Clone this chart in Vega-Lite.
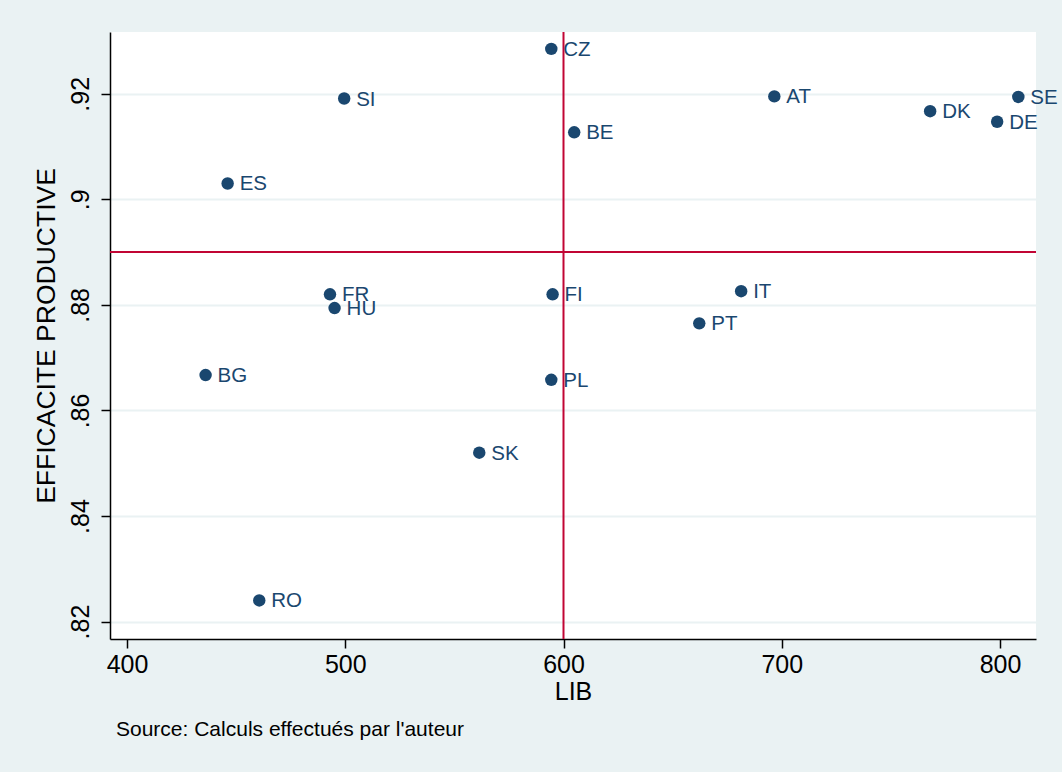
{
  "$schema": "https://vega.github.io/schema/vega-lite/v6.json",
  "width": 926,
  "height": 607,
  "autosize": {"type": "none"},
  "padding": {"left": 110, "top": 32, "right": 26, "bottom": 133},
  "background": "#eaf2f3",
  "config": {
    "font": "Liberation Sans",
    "view": {"fill": "white", "stroke": null},
    "axis": {
      "labelFont": "Liberation Sans",
      "titleFont": "Liberation Sans",
      "labelFontSize": 25,
      "titleFontSize": 25,
      "titleFontWeight": "normal",
      "labelColor": "black",
      "titleColor": "black",
      "domainColor": "black",
      "domainWidth": 1.5,
      "tickColor": "black",
      "tickWidth": 1.5,
      "tickSize": 9
    }
  },
  "title": {
    "text": "Source: Calculs effectués par l'auteur",
    "orient": "bottom",
    "anchor": "start",
    "frame": "group",
    "dx": 6,
    "offset": 15,
    "font": "Liberation Sans",
    "fontSize": 21,
    "fontWeight": "normal",
    "color": "black"
  },
  "data": {
    "values": [
      {"pays": "CZ", "lib": 594.4, "eff": 0.9285},
      {"pays": "BE", "lib": 604.9, "eff": 0.9127},
      {"pays": "SE", "lib": 808.4, "eff": 0.9194},
      {"pays": "DK", "lib": 768.0, "eff": 0.9167},
      {"pays": "DE", "lib": 798.7, "eff": 0.9147},
      {"pays": "AT", "lib": 696.6, "eff": 0.9195},
      {"pays": "SI", "lib": 499.5, "eff": 0.9191},
      {"pays": "ES", "lib": 446.1, "eff": 0.9030},
      {"pays": "FR", "lib": 493.0, "eff": 0.8820},
      {"pays": "HU", "lib": 495.1, "eff": 0.8794},
      {"pays": "FI", "lib": 595.0, "eff": 0.8820},
      {"pays": "IT", "lib": 681.4, "eff": 0.8826},
      {"pays": "PT", "lib": 662.2, "eff": 0.8765},
      {"pays": "BG", "lib": 436.0, "eff": 0.8667},
      {"pays": "PL", "lib": 594.4, "eff": 0.8658},
      {"pays": "SK", "lib": 561.4, "eff": 0.8520},
      {"pays": "RO", "lib": 460.6, "eff": 0.8240}
    ]
  },
  "encoding": {
    "x": {
      "field": "lib",
      "type": "quantitative",
      "title": "LIB",
      "scale": {"domain": [392.2, 816.5], "nice": false, "zero": false},
      "axis": {"values": [400, 500, 600, 700, 800], "grid": false, "labelPadding": 4, "titlePadding": 2}
    },
    "y": {
      "field": "eff",
      "type": "quantitative",
      "title": "EFFICACITE PRODUCTIVE",
      "scale": {"domain": [0.8167, 0.9317], "nice": false, "zero": false},
      "axis": {
        "values": [0.82, 0.84, 0.86, 0.88, 0.9, 0.92],
        "labelExpr": "replace(format(datum.value, '.2~f'), /^0/, '')",
        "labelAngle": -90,
        "labelAlign": "center",
        "labelBaseline": "bottom",
        "labelPadding": 8,
        "titlePadding": 8,
        "titleFontSize": 26.5,
        "grid": true,
        "gridColor": "#eaf2f3",
        "gridWidth": 2
      }
    }
  },
  "layer": [
    {
      "data": {"values": [{"v": 600}]},
      "mark": {"type": "rule", "color": "#c10534", "strokeWidth": 2},
      "encoding": {"x": {"field": "v", "type": "quantitative"}, "y": null}
    },
    {
      "data": {"values": [{"h": 0.89}]},
      "mark": {"type": "rule", "color": "#c10534", "strokeWidth": 2},
      "encoding": {"y": {"field": "h", "type": "quantitative"}, "x": null}
    },
    {
      "mark": {"type": "point", "shape": "circle", "filled": true, "size": 155, "color": "#1a476f", "opacity": 1}
    },
    {
      "mark": {"type": "text", "align": "left", "baseline": "middle", "dx": 12, "dy": 1, "fontSize": 20.5, "color": "#1a476f", "font": "Liberation Sans"},
      "encoding": {"text": {"field": "pays"}}
    }
  ]
}
